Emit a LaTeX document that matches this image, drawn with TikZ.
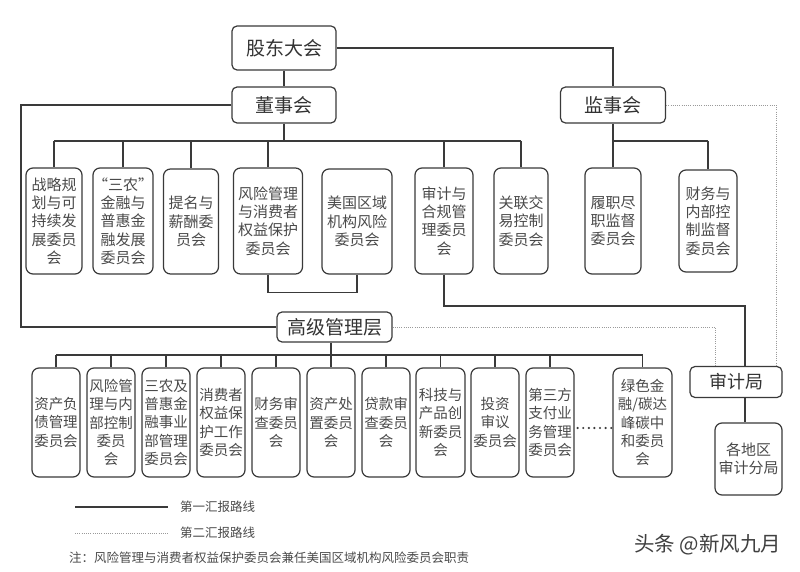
\documentclass[tikz,border=0pt]{standalone}
\usepackage{fontspec}
\setmainfont{Noto Sans CJK SC}
\usetikzlibrary{calc}
\definecolor{ln}{HTML}{3A3A3A}
\definecolor{tx}{HTML}{4A4A4A}
\definecolor{dl}{HTML}{9A9A9A}
\tikzset{
  box/.style={draw=ln, line width=1.2pt, rounded corners=7pt, inner sep=0pt, align=center,
    text=tx, font=\fontsize{15}{18.3}\selectfont},
  sbox/.style={box, font=\fontsize{14.5}{18.3}\selectfont},
  hbox/.style={draw=ln, line width=1.2pt, rounded corners=5pt, inner sep=0pt, align=center,
    text=black!80, font=\fontsize{19}{22}\selectfont},
  lin/.style={draw=ln, line width=1.2pt},
  dottwo/.style={draw=dl, line width=0.8pt, dash pattern=on 1pt off 1.2pt},
  dotbig/.style={draw=ln, line width=2.4pt, line cap=round, dash pattern=on 0pt off 5.6pt},
  legtext/.style={anchor=west, inner sep=0pt, text=tx, font=\fontsize{12.5}{14}\selectfont},
}
\begin{document}
\begin{tikzpicture}[x=1pt,y=-1pt]
\fill[white] (0,0) rectangle (800,572);
\useasboundingbox (0,0) rectangle (800,572);

% top level
\node[hbox, minimum width=104, minimum height=44] (gm) at (284,48) {股东大会};
\node[hbox, minimum width=104, minimum height=36] (dsh) at (284,105) {董事会};
\node[hbox, minimum width=105, minimum height=36] (jsh) at (613,105) {监事会};

% board committees
\node[box, minimum width=56, minimum height=106] (c1) at (54,221) {战略规\\划与可\\持续发\\展委员\\会};
\node[box, minimum width=56, minimum height=106] (c2) at (123,221) {“三农”\\金融与\\普惠金\\融发展\\委员会};
\node[box, minimum width=55, minimum height=105] (c3) at (191,221.5) {提名与\\薪酬委\\员会};
\node[box, minimum width=69, minimum height=106] (c4) at (268,221) {风险管理\\与消费者\\权益保护\\委员会};
\node[box, minimum width=70, minimum height=105] (c5) at (357,221.5) {美国区域\\机构风险\\委员会};
\node[box, minimum width=58, minimum height=106] (c6) at (444,221) {审计与\\合规管\\理委员\\会};
\node[box, minimum width=54, minimum height=106] (c7) at (521,221) {关联交\\易控制\\委员会};
\node[box, minimum width=56, minimum height=106] (c8) at (613,221) {履职尽\\职监督\\委员会};
\node[box, minimum width=58, minimum height=102] (c9) at (708,221) {财务与\\内部控\\制监督\\委员会};

% senior management
\node[hbox, minimum width=115, minimum height=30] (gsm) at (334.5,327) {高级管理层};

\node[sbox, minimum width=48, minimum height=109] (b1) at (56,422.5) {资产负\\债管理\\委员会};
\node[sbox, minimum width=48, minimum height=109] (b2) at (111,422.5) {风险管\\理与内\\部控制\\委员\\会};
\node[sbox, minimum width=48, minimum height=109] (b3) at (166,422.5) {三农及\\普惠金\\融事业\\部管理\\委员会};
\node[sbox, minimum width=48, minimum height=109] (b4) at (221,422.5) {消费者\\权益保\\护工作\\委员会};
\node[sbox, minimum width=48, minimum height=109] (b5) at (276,422.5) {财务审\\查委员\\会};
\node[sbox, minimum width=48, minimum height=109] (b6) at (331,422.5) {资产处\\置委员\\会};
\node[sbox, minimum width=48, minimum height=109] (b7) at (386,422.5) {贷款审\\查委员\\会};
\node[sbox, minimum width=49, minimum height=109] (b8) at (440.5,422.5) {科技与\\产品创\\新委员\\会};
\node[sbox, minimum width=48, minimum height=109] (b9) at (495,422.5) {投资\\审议\\委员会};
\node[sbox, minimum width=48, minimum height=109] (b10) at (550,422.5) {第三方\\支付业\\务管理\\委员会};
\node[sbox, minimum width=59, minimum height=109] (b11) at (642.5,422.5) {绿色金\\融/碳达\\峰碳中\\和委员\\会};

% audit
\node[hbox, minimum width=92, minimum height=31, font=\fontsize{18}{21}\selectfont] (sjj) at (736,382) {审计局};
\node[box, minimum width=67, minimum height=72] (fgj) at (748.5,459) {各地区\\审计分局};

% coordinates
\coordinate (busT) at (0,141);
\coordinate (busB) at (0,355);
\coordinate (L) at (21,0);
\coordinate (A) at (745,306);
\coordinate (B) at (715,0);
\coordinate (C) at (776,0);
\coordinate (dotsY) at (0,428);

% solid connectors
\draw[lin] (gm.south) -- (dsh.north);
\draw[lin] (gm.east) -| (jsh.north);
\draw[lin] (dsh.south) -- (dsh.south |- busT);
\draw[lin] (c1.north |- busT) -- (c7.north |- busT);
\foreach \n in {c1,c2,c3,c4,c6,c7} \draw[lin] (\n.north |- busT) -- (\n.north);
\draw[lin] (jsh.south) -- (jsh.south |- busT);
\draw[lin] (c8.north |- busT) -- (c9.north |- busT);
\foreach \n in {c8,c9} \draw[lin] (\n.north |- busT) -- (\n.north);
\draw[lin] (c4.south) -- ++(0,18) -| (c5.south);
\draw[lin] (dsh.west) -- (dsh.west -| L) |- (gsm.west);
\draw[lin] (c6.south) |- (A) -- (A |- sjj.north);
\draw[lin] (A |- sjj.south) -- (A |- fgj.north);
\draw[lin] (b6.north |- gsm.south) -- (b6.north |- busB);
\draw[lin] (b1.north |- busB) -- (b11.north |- busB);
\foreach \n in {b1,b2,b3,b4,b5,b6,b7,b8,b9,b10,b11} \draw[lin] (\n.north |- busB) -- (\n.north);
\draw[dotbig] ($(b10.east |- dotsY)+(3,0)$) -- ($(b11.west |- dotsY)+(-1,0)$);

% dotted connectors
\draw[dottwo] (gsm.east) -| (B |- sjj.north);
\draw[dottwo] (jsh.east) -| (C |- sjj.north);

% legend
\coordinate (l1a) at (75,507);
\coordinate (l1b) at (168,507);
\coordinate (l2a) at (75,533);
\coordinate (l2b) at (168,533);
\draw[lin, line width=1.5pt] (l1a) -- (l1b);
\draw[dottwo] (l2a) -- (l2b);
\node[legtext] (t1) at (180,507) {第一汇报路线};
\node[legtext] (t2) at (180,533) {第二汇报路线};
\node[legtext] (note) at (69,558) {注：风险管理与消费者权益保护委员会兼任美国区域机构风险委员会职责};
\node[anchor=west, inner sep=0pt, text=black!75, font=\fontsize{20.5}{23}\selectfont] (wm) at (634,545) {头条 @新风九月};
\end{tikzpicture}
\end{document}
